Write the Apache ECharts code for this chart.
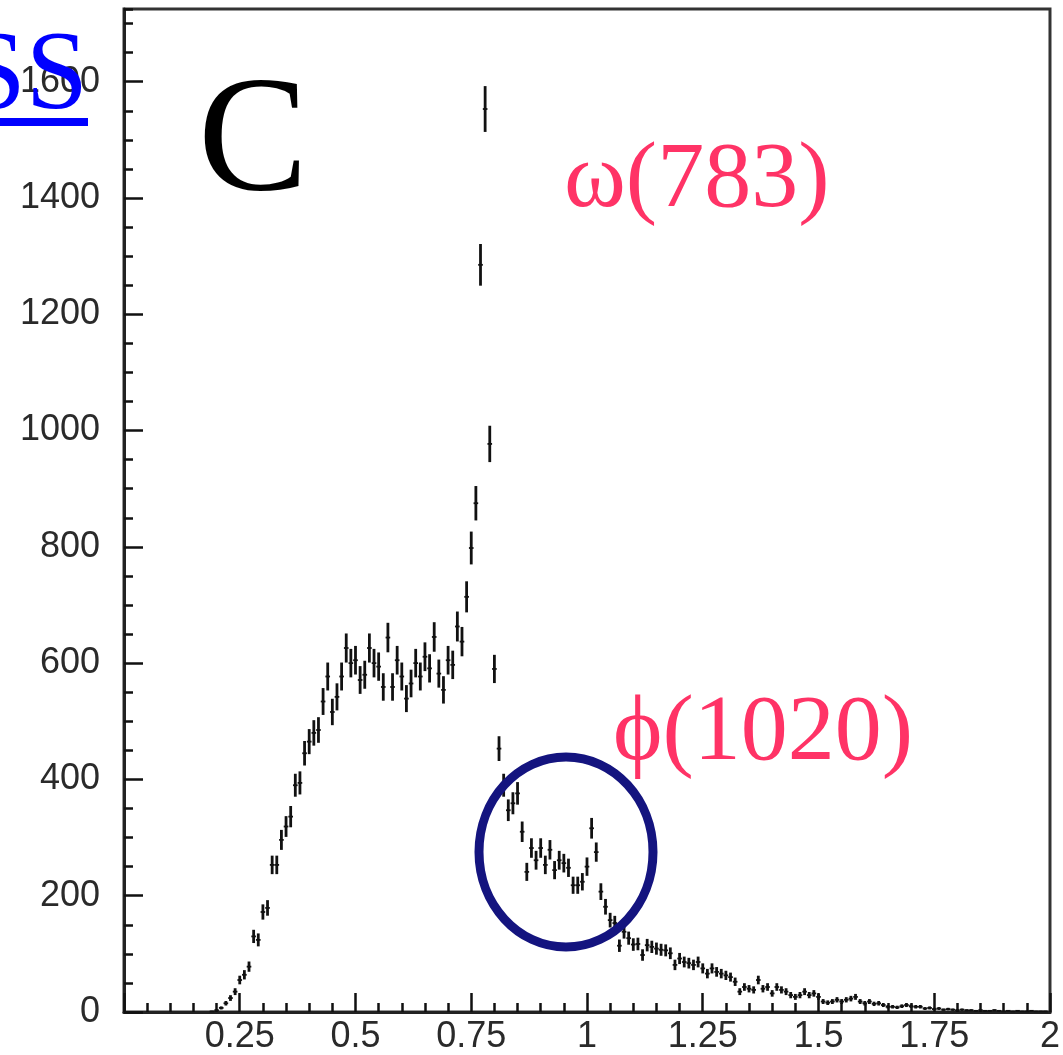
<!DOCTYPE html>
<html>
<head>
<meta charset="utf-8">
<script src="https://cdn.jsdelivr.net/npm/echarts@6/dist/echarts.min.js"></script>
<style>
  html, body { margin: 0; padding: 0; background: #fff; }
  #chart { width: 1063px; height: 1055px; }
</style>
</head>
<body>
<div id="chart"></div>
<script>
// histogram: 200 bins of width 0.01, centred on multiples of 0.01
const binLow = -0.005;
const binWidth = 0.01;
const counts = [
  0, 0, 0, 0, 0, 0, 0, 0, 0, 0,
  0, 0, 0, 0, 0, 0, 0, 0, 0, 1,
  3, 7, 15, 24, 35, 55, 64, 78, 130, 124,
  172, 179, 253, 253, 296, 319, 336, 390, 394, 445,
  465, 480, 485, 534, 577, 516, 542, 577, 626, 600,
  605, 571, 580, 626, 600, 594, 559, 644, 559, 605,
  577, 539, 565, 600, 577, 611, 591, 645, 582, 554,
  605, 597, 663, 637, 714, 798, 875, 1285, 1553, 977,
  590, 453, 390, 347, 359, 376, 310, 241, 282, 261,
  282, 253, 279, 244, 261, 256, 248, 218, 218, 224,
  250, 316, 275, 207, 181, 158, 153, 114, 138, 127,
  116, 117, 98, 115, 112, 109, 107, 106, 101, 81,
  92, 86, 84, 81, 86, 75, 66, 75, 69, 66,
  63, 60, 52, 35, 43, 40, 38, 55, 40, 43,
  32, 43, 38, 35, 29, 26, 29, 35, 29, 32,
  26, 18, 16, 18, 21, 18, 21, 23, 26, 18,
  15, 18, 14, 15, 12, 9, 9, 8, 10, 12,
  10, 9, 9, 6, 7, 5, 6, 4, 5, 4,
  3, 4, 3, 3, 2, 3, 2, 2, 3, 2,
  1, 2, 1, 2, 1, 1, 2, 1, 1, 1
];
const xTicks = [0, 0.25, 0.5, 0.75, 1, 1.25, 1.5, 1.75, 2];
const yMax = 1725;
const peakLabels = ['ω(783)', 'ϕ(1020)'];
const panelLabel = 'C';
const linkText = 'SS';

// bin centre, content, poisson error
const points = [];
counts.forEach((n, i) => {
  if (n > 0) points.push([binLow + (i + 0.5) * binWidth, n, Math.sqrt(n)]);
});

const chart = echarts.init(document.getElementById('chart'));
const ink = '#111';
const labelFont = { fontFamily: 'Liberation Sans', fontSize: 36, color: '#2a2a2a' };

const option = {
  animation: false,
  backgroundColor: '#fff',
  grid: { left: 124, right: 13, top: 9, bottom: 43, show: true, borderColor: '#333', borderWidth: 3 },
  xAxis: {
    type: 'value',
    min: xTicks[0],
    max: xTicks[xTicks.length - 1],
    interval: 0.25,
    axisLine: { lineStyle: { color: '#222', width: 3 } },
    axisTick: { show: true, inside: true, length: 19, lineStyle: { color: ink, width: 2.5 } },
    minorTick: { show: true, splitNumber: 5, length: 9, lineStyle: { color: ink, width: 2.5 } },
    splitLine: { show: false },
    axisLabel: Object.assign({ margin: 7, showMinLabel: false, formatter: v => String(v) }, labelFont)
  },
  yAxis: [{
    type: 'value',
    min: 0,
    max: yMax,
    interval: 200,
    axisLine: { show: true, lineStyle: { color: '#222', width: 3 } },
    axisTick: { show: true, inside: true, length: 19, lineStyle: { color: ink, width: 2.5 } },
    splitLine: { show: false },
    axisLabel: Object.assign({ margin: 24, showMaxLabel: false, formatter: v => String(v) }, labelFont)
  }, {
    type: 'value',
    min: 0,
    max: yMax,
    interval: 50,
    position: 'left',
    axisLine: { show: false },
    axisTick: { show: true, inside: true, length: 9, lineStyle: { color: ink, width: 2.5 } },
    splitLine: { show: false },
    axisLabel: { show: false }
  }],
  series: [{
    type: 'custom',
    xAxisIndex: 0,
    yAxisIndex: 0,
    data: points,
    renderItem: function (params, api) {
      const x = api.value(0), y = api.value(1), e = api.value(2);
      const top = api.coord([x, y + e]);
      const bot = api.coord([x, Math.max(0, y - e)]);
      const l = api.coord([x - binWidth / 2, y]);
      const r = api.coord([x + binWidth / 2, y]);
      return {
        type: 'group',
        children: [
          { type: 'line', shape: { x1: top[0], y1: top[1], x2: bot[0], y2: bot[1] }, style: { stroke: ink, lineWidth: 2.8 } },
          { type: 'line', shape: { x1: l[0], y1: l[1], x2: r[0], y2: r[1] }, style: { stroke: ink, lineWidth: 1.8 } }
        ]
      };
    }
  }],
  graphic: [
    { type: 'text', x: 198, y: 146, style: { text: panelLabel, font: '165px "Liberation Serif"', fill: '#000', verticalAlign: 'middle' }, z: 10 },
    { type: 'text', x: 564, y: 181, style: { text: peakLabels[0], font: '94px "Liberation Serif"', fill: '#ff3366', verticalAlign: 'middle' }, z: 10 },
    { type: 'text', x: 613, y: 734, style: { text: peakLabels[1], font: '94px "Liberation Serif"', fill: '#ff3366', verticalAlign: 'middle' }, z: 10 },
    { type: 'ellipse', shape: { cx: 566, cy: 852, rx: 87, ry: 95 }, style: { fill: 'none', stroke: '#14147f', lineWidth: 9 }, z: 10 },
    { type: 'text', x: 88, y: 79, style: { text: linkText, font: '112px "Liberation Serif"', fill: '#0000ff', align: 'right', verticalAlign: 'middle' }, z: 20 },
    { type: 'rect', shape: { x: 0, y: 118, width: 88, height: 8 }, style: { fill: '#0000ff' }, z: 20 }
  ]
};

chart.setOption(option);
</script>
</body>
</html>
